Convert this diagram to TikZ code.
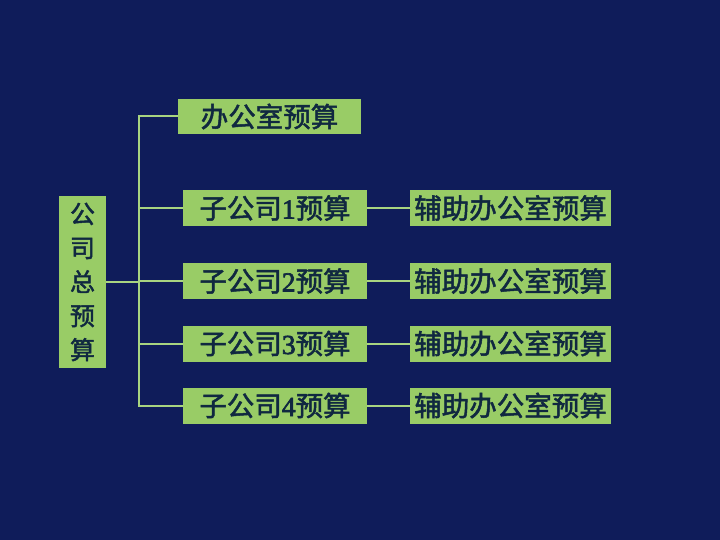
\documentclass[tikz,border=0pt]{standalone}
\usepackage{fontspec}
\newfontfamily\cjk{Noto Sans CJK SC}[FakeBold=1.8]
\newfontfamily\numf{Liberation Serif}[FakeBold=2.5]
\definecolor{bg}{RGB}{15,28,90}
\definecolor{boxg}{RGB}{153,204,102}
\definecolor{lineg}{RGB}{168,212,128}
\definecolor{txt}{RGB}{16,40,64}
\begin{document}
\begin{tikzpicture}[x=1pt,y=-1pt,
  gbox/.style={fill=boxg,draw=none,inner sep=0pt,text=txt,font=\cjk\fontsize{27.5}{30}\selectfont},
  link/.style={draw=lineg,line width=2pt}]
\fill[bg] (0,0) rectangle (720,540);
\useasboundingbox (0,0) rectangle (720,540);
\node[gbox,minimum width=47pt,minimum height=172pt,align=center,font=\cjk\fontsize{25}{34}\selectfont] (L) at (82.5,282) {公\\司\\总\\预\\算};
\node[gbox,minimum width=183pt,minimum height=35pt] (ofc) at (269.5,116.5) {办公室预算};
\node[gbox,minimum width=184pt,minimum height=36pt] (s1) at (275,208) {子公司{\numf 1}预算};
\node[gbox,minimum width=184pt,minimum height=36pt] (s2) at (275,281) {子公司{\numf 2}预算};
\node[gbox,minimum width=184pt,minimum height=36pt] (s3) at (275,343.5) {子公司{\numf 3}预算};
\node[gbox,minimum width=184pt,minimum height=36pt] (s4) at (275,405.5) {子公司{\numf 4}预算};
\node[gbox,minimum width=201pt,minimum height=36pt] (a1) at (510.5,208) {辅助办公室预算};
\node[gbox,minimum width=201pt,minimum height=36pt] (a2) at (510.5,281) {辅助办公室预算};
\node[gbox,minimum width=201pt,minimum height=36pt] (a3) at (510.5,343.5) {辅助办公室预算};
\node[gbox,minimum width=201pt,minimum height=36pt] (a4) at (510.5,405.5) {辅助办公室预算};
\coordinate (t) at (139,0);
\draw[link] (ofc.west) -| (t |- s4.west) -- (s4.west);
\draw[link] (t |- s1.west) -- (s1.west);
\draw[link] (t |- s2.west) -- (s2.west);
\draw[link] (t |- s3.west) -- (s3.west);
\draw[link] (L.east) -- (L.east -| t);
\draw[link] (s1.east) -- (a1.west);
\draw[link] (s2.east) -- (a2.west);
\draw[link] (s3.east) -- (a3.west);
\draw[link] (s4.east) -- (a4.west);
\end{tikzpicture}
\end{document}
